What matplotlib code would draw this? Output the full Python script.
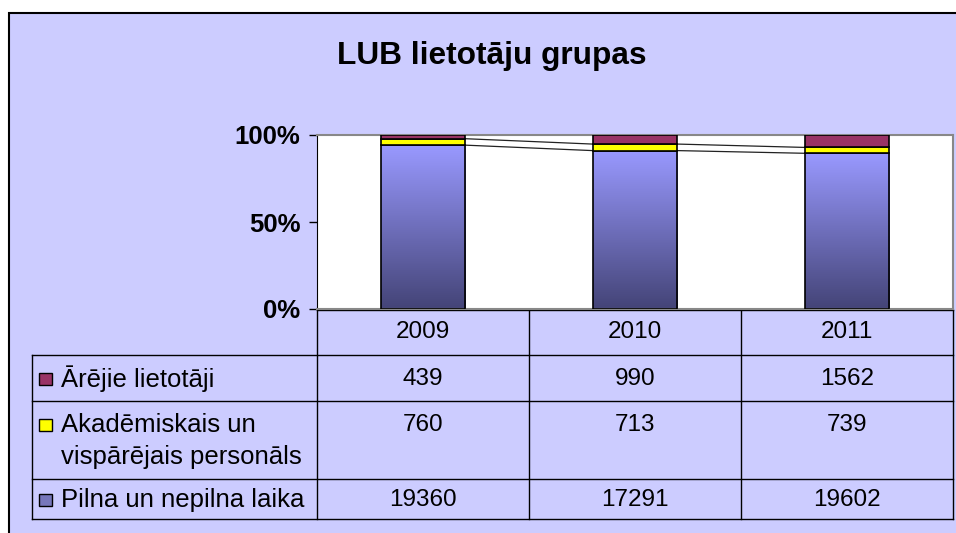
import numpy as np
import matplotlib.pyplot as plt
from matplotlib.patches import Rectangle
from matplotlib.lines import Line2D
from matplotlib.colors import LinearSegmentedColormap

plt.rcParams['font.family'] = ['Liberation Sans', 'DejaVu Sans']

# data
years = ['2009', '2010', '2011']
series_names = ['Ārējie lietotāji', 'Akadēmiskais un\nvispārējais personāls', 'Pilna un nepilna laika']
arejie = [439, 990, 1562]
akademiskais = [760, 713, 739]
pilna = [19360, 17291, 19602]
y_ticks = [0, 50, 100]
y_tick_labels = ['0%', '50%', '100%']

BG = '#CCCCFF'
MAROON = '#993366'
YELLOW = '#FFFF00'

W, H = 956, 533
fig = plt.figure(figsize=(W / 100, H / 100), dpi=100, facecolor='white')

# overlay axes in pixel coordinates for frame + table
ov = fig.add_axes([0, 0, 1, 1])
ov.set_xlim(0, W)
ov.set_ylim(H, 0)
ov.axis('off')
ov.add_patch(Rectangle((9, 13), W + 20, H + 20, facecolor=BG, edgecolor='black', lw=1.5, zorder=0))

# plot area
px0, px1, py0, py1 = 317, 953, 135, 309
ax = fig.add_axes([px0 / W, 1 - py1 / H, (px1 - px0) / W, (py1 - py0) / H])
ax.set_facecolor('white')

tot = np.array(arejie) + np.array(akademiskais) + np.array(pilna)
p_pilna = np.array(pilna) / tot * 100
p_akad = np.array(akademiskais) / tot * 100
p_arej = np.array(arejie) / tot * 100

x = np.arange(len(years))
bw = 0.4
cmap = LinearSegmentedColormap.from_list('g', ['#444477', '#9999FF'])
grad = np.linspace(0, 1, 256).reshape(-1, 1)

for i in x:
    r = Rectangle((i - bw / 2, 0), bw, p_pilna[i], facecolor='none', edgecolor='black', lw=1.2, zorder=3)
    ax.add_patch(r)
    im = ax.imshow(grad, cmap=cmap, aspect='auto', origin='lower',
                   extent=(i - bw / 2, i + bw / 2, 0, p_pilna[i]), zorder=2)
    im.set_clip_path(r)
ax.bar(x, p_akad, bw, bottom=p_pilna, color=YELLOW, edgecolor='black', lw=1.2, zorder=3)
ax.bar(x, p_arej, bw, bottom=p_pilna + p_akad, color=MAROON, edgecolor='black', lw=1.2, zorder=3)

# series lines between bars
for lev in [p_pilna, p_pilna + p_akad]:
    for i in range(len(x) - 1):
        ax.plot([x[i] + bw / 2, x[i + 1] - bw / 2], [lev[i], lev[i + 1]], color='#222222', lw=0.9, zorder=2)

ax.set_xlim(-0.5, len(years) - 0.5)
ax.set_ylim(0, 100)
ax.set_xticks([])
ax.set_yticks(y_ticks)
ax.set_yticklabels(y_tick_labels, fontsize=18.5, fontweight='bold')
ax.tick_params(axis='y', length=6, width=1, pad=6, direction='out')
for s in ['top', 'right', 'bottom']:
    ax.spines[s].set_color('#888888')
    ax.spines[s].set_linewidth(1.5)
ax.spines['left'].set_color('black')

# title
ov.text(492, 56, 'LUB lietotāju grupas', fontsize=22.8, fontweight='bold', ha='center', va='center')

# table
tx0 = 32
rows_y = [310, 355, 401, 479, 519]
colw = (px1 - px0) / len(years)
cols_x = [px0 + k * colw for k in range(len(years) + 1)]
lc = 'black'
lw = 1
ov.add_line(Line2D([px0, px1], [rows_y[0], rows_y[0]], color=lc, lw=lw))
for cx in cols_x:
    ov.add_line(Line2D([cx, cx], [rows_y[0], rows_y[-1]], color=lc, lw=lw))
for ry in rows_y[1:]:
    ov.add_line(Line2D([tx0, px1], [ry, ry], color=lc, lw=lw))
ov.add_line(Line2D([tx0, tx0], [rows_y[1], rows_y[-1]], color=lc, lw=lw))

fs_num = 17.5
fs_lab = 18.5
for k, yr in enumerate(years):
    ov.text((cols_x[k] + cols_x[k + 1]) / 2, (rows_y[0] + rows_y[1]) / 2, yr, fontsize=fs_num, ha='center', va='center')

row_vals = [arejie, akademiskais, pilna]
key_colors = [MAROON, YELLOW, '#7777BB']
row_text_y = [379, 425, 500]
for r in range(3):
    ty = row_text_y[r]
    ov.add_patch(Rectangle((39, ty - 6), 13, 12, facecolor=key_colors[r], edgecolor='black', lw=1))
    for j, ln in enumerate(series_names[r].split('\n')):
        ov.text(61, ty + j * 32, ln, fontsize=fs_lab, ha='left', va='center')
    for k in range(len(years)):
        ov.text((cols_x[k] + cols_x[k + 1]) / 2, ty, str(row_vals[r][k]), fontsize=fs_num, ha='center', va='center')

fig.savefig('out.png', dpi=100, facecolor='white')
